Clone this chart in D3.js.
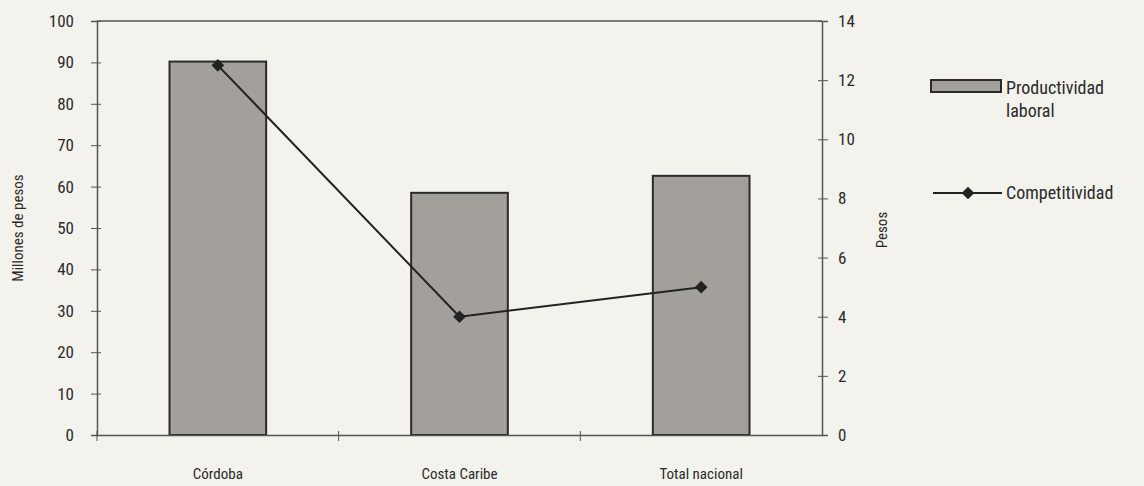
<!DOCTYPE html>
<html>
<head>
<meta charset="utf-8">
<script src="https://cdn.jsdelivr.net/npm/d3@7"></script>
<style>
  body { margin: 0; background: #f4f2ed; }
  svg text { font-family: "Liberation Sans Narrow", "Roboto Condensed", "Liberation Sans", sans-serif; fill: #2a2a2a; }
</style>
</head>
<body>
<div id="chart"></div>
<script>
// datos
const regiones = ['Córdoba', 'Costa Caribe', 'Total nacional'];
const productividad = [90.2, 58.5, 62.6];   // millones de pesos (eje izq.)
const competitividad = [12.5, 4.0, 5.0];    // pesos (eje der.)
const ticksIzq = [0, 10, 20, 30, 40, 50, 60, 70, 80, 90, 100];
const ticksDer = [0, 2, 4, 6, 8, 10, 12, 14];

const dimensions = {
    width: 1144,
    height: 486,
    margin: { top: 21, right: 322, bottom: 51, left: 97 }
};
dimensions.boundWidth = dimensions.width - dimensions.margin.left - dimensions.margin.right;
dimensions.boundHeight = dimensions.height - dimensions.margin.top - dimensions.margin.bottom;

const svg = d3.select('#chart')
    .append('svg')
    .attr('width', dimensions.width)
    .attr('height', dimensions.height);

const g = svg.append('g')
    .attr('transform', `translate(${dimensions.margin.left},${dimensions.margin.top})`);

const x = d3.scaleBand().domain(regiones).range([0, dimensions.boundWidth]);
const yIzq = d3.scaleLinear().domain([0, 100]).range([dimensions.boundHeight, 0]);
const yDer = d3.scaleLinear().domain([0, 14]).range([dimensions.boundHeight, 0]);

// marco superior
g.append('line')
    .attr('x1', 0).attr('x2', dimensions.boundWidth)
    .attr('y1', 0).attr('y2', 0)
    .attr('stroke', '#555').attr('stroke-width', 1.5);

// barras
const barW = x.bandwidth() * 0.4;
g.append('g').selectAll('rect')
    .data(regiones)
    .join('rect')
    .attr('x', (d) => x(d) + x.bandwidth() / 2 - barW / 2)
    .attr('y', (d, i) => yIzq(productividad[i]))
    .attr('width', barW)
    .attr('height', (d, i) => dimensions.boundHeight - yIzq(productividad[i]))
    .attr('fill', '#a3a09b')
    .attr('stroke', '#2a2a2a')
    .attr('stroke-width', 2);

// eje izquierdo
const axisIzq = g.append('g')
    .call(d3.axisLeft(yIzq).tickValues(ticksIzq).tickSize(6).tickPadding(17));
axisIzq.selectAll('.tick line').attr('x2', -6).attr('x1', 4);

// eje derecho
const axisDer = g.append('g')
    .attr('transform', `translate(${dimensions.boundWidth},0)`)
    .call(d3.axisRight(yDer).tickValues(ticksDer).tickSize(6).tickPadding(10));
axisDer.selectAll('.tick line').attr('x1', -4).attr('x2', 6);

// eje x
const axisX = g.append('g')
    .attr('transform', `translate(0,${dimensions.boundHeight})`)
    .call(d3.axisBottom(x).tickSize(0).tickPadding(33));
axisX.selectAll('.tick').each(function (d) {
    d3.select(this).append('line')
        .attr('x1', -x.bandwidth() / 2).attr('x2', -x.bandwidth() / 2)
        .attr('y1', -4).attr('y2', 6)
        .attr('stroke', '#555');
});

[axisIzq, axisDer, axisX].forEach(a => {
    a.select('.domain').attr('stroke', '#555').attr('stroke-width', 1.5);
    a.selectAll('.tick line').attr('stroke', '#555');
    a.selectAll('text').style('font-size', '17px').attr('fill', '#2a2a2a');
});
axisX.selectAll('text').style('font-size', '15px');

// línea de competitividad
const linea = d3.line()
    .x((d, i) => x(regiones[i]) + x.bandwidth() / 2)
    .y(d => yDer(d));
g.append('path')
    .datum(competitividad)
    .attr('d', linea)
    .attr('fill', 'none')
    .attr('stroke', '#222')
    .attr('stroke-width', 2);

// rombo: cuadrado girado 45°
const rombo = d3.symbol().type(d3.symbolSquare).size(80);
g.append('g').selectAll('path')
    .data(competitividad)
    .join('path')
    .attr('transform', (d, i) => `translate(${x(regiones[i]) + x.bandwidth() / 2},${yDer(d)}) rotate(45)`)
    .attr('d', rombo)
    .attr('fill', '#222');

// títulos de ejes
svg.append('text')
    .attr('transform', `translate(23,${dimensions.margin.top + dimensions.boundHeight / 2}) rotate(-90)`)
    .attr('text-anchor', 'middle')
    .style('font-size', '15px')
    .text('Millones de pesos');

svg.append('text')
    .attr('transform', `translate(887,230) rotate(-90)`)
    .attr('text-anchor', 'middle')
    .style('font-size', '15px')
    .text('Pesos');

// leyenda
const leyenda = svg.append('g').attr('transform', 'translate(931,0)');
leyenda.append('rect')
    .attr('x', 0).attr('y', 80).attr('width', 70).attr('height', 12)
    .attr('fill', '#a3a09b').attr('stroke', '#2a2a2a').attr('stroke-width', 2);
leyenda.append('text').attr('x', 75).attr('y', 94).style('font-size', '18px').text('Productividad');
leyenda.append('text').attr('x', 75).attr('y', 117).style('font-size', '18px').text('laboral');
leyenda.append('line')
    .attr('x1', 2).attr('x2', 71).attr('y1', 193).attr('y2', 193)
    .attr('stroke', '#222').attr('stroke-width', 2);
leyenda.append('path')
    .attr('transform', 'translate(37,193) rotate(45)')
    .attr('d', rombo)
    .attr('fill', '#222');
leyenda.append('text').attr('x', 75).attr('y', 199).style('font-size', '18px').text('Competitividad');
</script>
</body>
</html>
